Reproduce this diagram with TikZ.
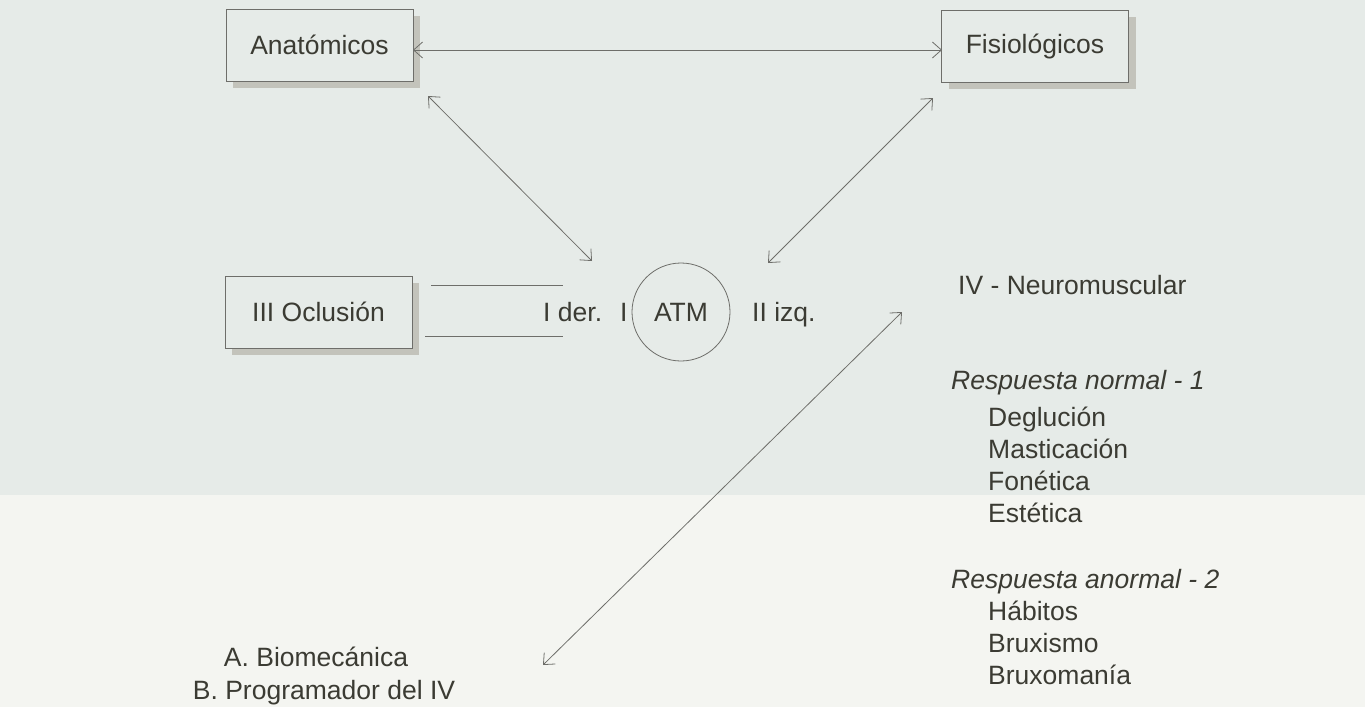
\documentclass[tikz,border=0pt]{standalone}
\usepackage{fontspec}
\setmainfont{Liberation Sans}
\usetikzlibrary{arrows.meta,shadows}
\definecolor{ink}{HTML}{3B3B33}
\definecolor{linec}{HTML}{6E6E6A}
\definecolor{bgtop}{HTML}{E6EBE8}
\definecolor{bgbot}{HTML}{F4F5F1}
\definecolor{shade}{HTML}{C3C3BB}
\begin{document}
\begin{tikzpicture}[x=1pt,y=-1pt,
  txt/.style={text=ink,font=\fontsize{26.5}{32}\selectfont,inner sep=0pt},
  box/.style={draw=linec,line width=0.8pt,fill=bgtop,minimum width=187pt,minimum height=72pt,
    text=ink,font=\fontsize{26.5}{32}\selectfont,
    drop shadow={shadow xshift=7pt,shadow yshift=-7pt,fill=shade,opacity=1}},
  conn/.style={draw=linec,line width=0.8pt,
    {Straight Barb[length=9pt,width=16pt]}-{Straight Barb[length=9pt,width=16pt]}},
  plain/.style={draw=linec,line width=0.8pt},
]
% background
\fill[bgbot] (0,0) rectangle (1365,707);
\fill[bgtop] (0,0) rectangle (1365,495);
\useasboundingbox (0,0) rectangle (1365,707);

% boxes
\node[box] (ana) at (319.5,45) {Anatómicos};
\node[box] (fis) at (1035,46) {Fisiológicos};
\node[box] (ocl) at (318.5,312) {III Oclusión};

% ATM circle
\node[draw=linec,line width=0.8pt,circle,minimum size=98pt,inner sep=0pt,txt] (atm) at (681,312) {ATM};

% side labels
\node[txt,anchor=base west] (der) at (543,321.5) {I der.};
\node[txt,anchor=base west] (bar) at (620,321.5) {I};
\node[txt,anchor=base west] (izq) at (752,321.5) {II izq.};

% right column
\node[txt,anchor=base west] (neuro) at (958,294.5) {IV - Neuromuscular};
\node[txt,anchor=base west] (rn) at (951,389) {\itshape Respuesta normal - 1};
\node[txt,anchor=base west] (r1) at (988,426.5) {Deglución};
\node[txt,anchor=base west] (r2) at (988,458) {Masticación};
\node[txt,anchor=base west] (r3) at (988,490) {Fonética};
\node[txt,anchor=base west] (r4) at (988,522) {Estética};
\node[txt,anchor=base west] (ra) at (951,588) {\itshape Respuesta anormal - 2};
\node[txt,anchor=base west] (r5) at (988,620.5) {Hábitos};
\node[txt,anchor=base west] (r6) at (988,652.5) {Bruxismo};
\node[txt,anchor=base west] (r7) at (988,684) {Bruxomanía};

% bottom left
\node[txt,anchor=base] (bio) at (316,666.5) {A. Biomecánica};
\node[txt,anchor=base] (prog) at (324,699) {B. Programador del IV};

% connector end points
\coordinate (h1) at (413,50);
\coordinate (h2) at (942,50);
\coordinate (d1a) at (428,96);
\coordinate (d1b) at (592,261);
\coordinate (d2a) at (933,98);
\coordinate (d2b) at (768,263);
\coordinate (d3a) at (902,312);
\coordinate (d3b) at (543,665);
\coordinate (l1a) at (431,285);
\coordinate (l1b) at (563,285);
\coordinate (l2a) at (425,336);
\coordinate (l2b) at (563,336);

\draw[conn] (h1) -- (h2);
\draw[conn] (d1a) -- (d1b);
\draw[conn] (d2a) -- (d2b);
\draw[conn] (d3a) -- (d3b);
\draw[plain] (l1a) -- (l1b);
\draw[plain] (l2a) -- (l2b);
\end{tikzpicture}
\end{document}
